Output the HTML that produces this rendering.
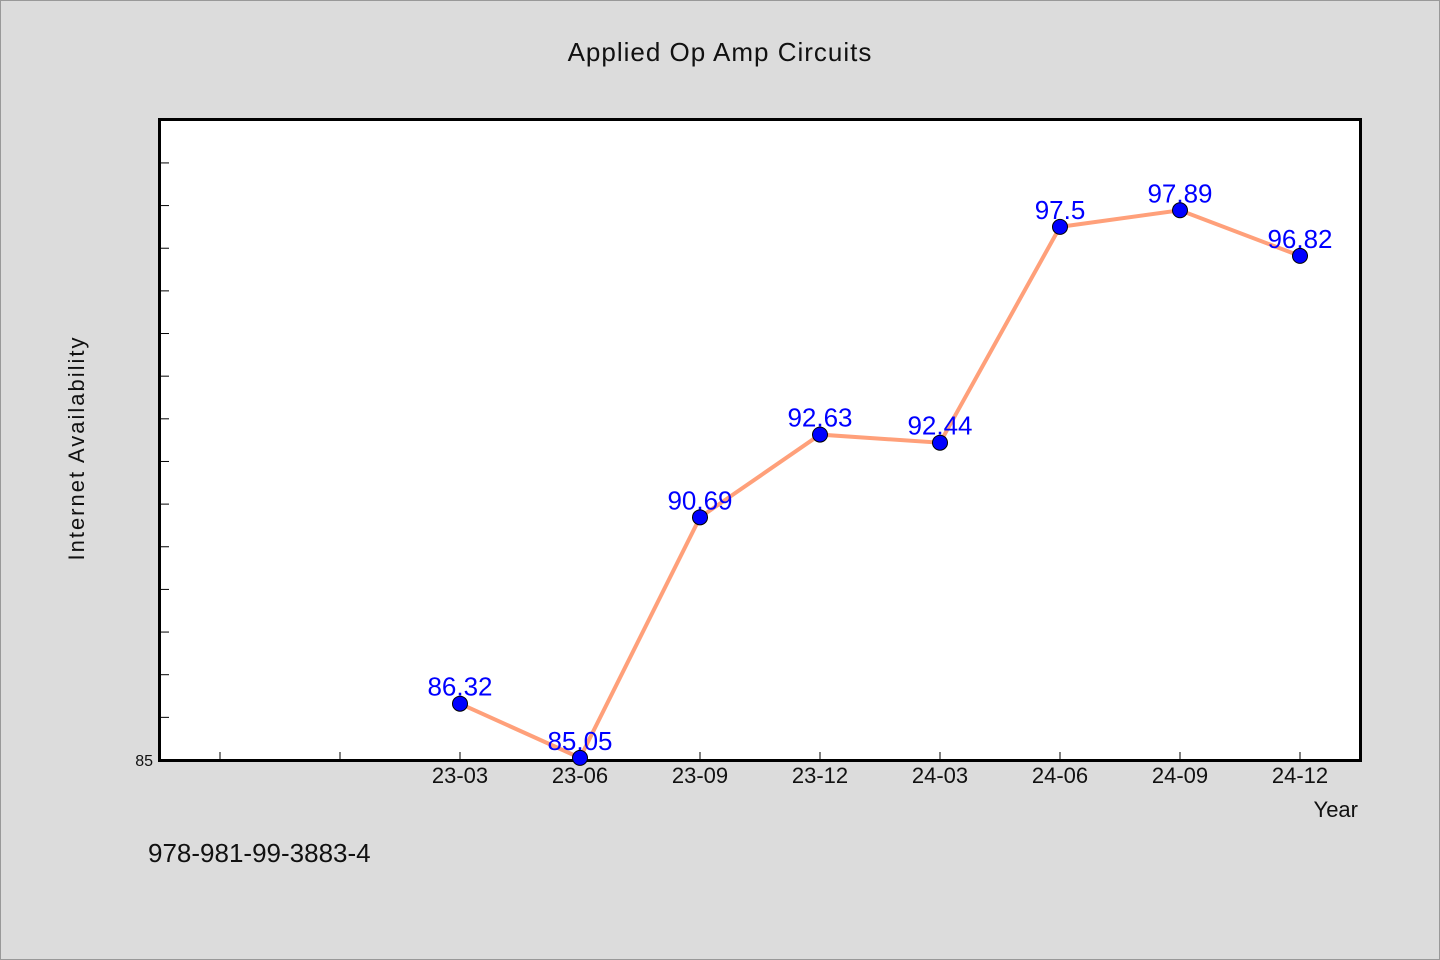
<!DOCTYPE html>
<html><head><meta charset="utf-8"><style>
body{margin:0;background:#dcdcdc;}
svg{display:block;font-family:"WenQuanYi Zen Hei","Liberation Sans",sans-serif;}
</style></head><body>
<svg width="1440" height="960" viewBox="0 0 1440 960">
<rect x="0.5" y="0.5" width="1439" height="959" fill="#dcdcdc" stroke="#999"/>
<text x="720" y="61" text-anchor="middle" font-size="26" fill="#111" letter-spacing="1">Applied Op Amp Circuits</text>
<rect x="159.5" y="119.5" width="1201" height="641" fill="#fff" stroke="#000" stroke-width="3"/>
<g id="ticks"></g>
<g id="marks"></g>
<text transform="translate(84,448) rotate(-90)" text-anchor="middle" font-size="22" fill="#111" letter-spacing="2">Internet Availability</text>
<text x="1358" y="817" text-anchor="end" font-size="22" fill="#111">Year</text>
<text x="148" y="862" font-size="26" fill="#111">978-981-99-3883-4</text>
</svg>
<script>
const categories=['','','23-03','23-06','23-09','23-12','24-03','24-06','24-09','24-12'];
const values=[null,null,86.32,85.05,90.69,92.63,92.44,97.5,97.89,96.82];
const labels=['','','86.32','85.05','90.69','92.63','92.44','97.5','97.89','96.82'];
const yMin=85,yMax=100.03;
const ns='http://www.w3.org/2000/svg';
const X0=160,X1=1360,Y0=760,Y1=119;
const band=(X1-X0)/categories.length;
const xs=i=>X0+band*(i+0.5);
const ys=v=>Y0-(v-yMin)/(yMax-yMin)*(Y0-Y1);
function mk(t,a,p){const e=document.createElementNS(ns,t);for(const k in a)e.setAttribute(k,a[k]);p.appendChild(e);return e;}
const tg=document.getElementById('ticks'),mg=document.getElementById('marks');
for(let v=86;v<100;v++){const y=ys(v);const t=mk('line',{x1:160,x2:169,y1:y,y2:y,stroke:'#000','stroke-width':1},tg);

}
const yl=mk('text',{x:153,y:Y0+6,'text-anchor':'end','font-size':16,fill:'#111'},tg);yl.textContent='85';


categories.forEach((c,i)=>{const x=xs(i);const t=mk('line',{x1:x,x2:x,y1:752,y2:760,stroke:'#000','stroke-width':1},tg);


if(c){const l=mk('text',{x:x,y:783,'text-anchor':'middle','font-size':22,fill:'#111'},tg);l.textContent=c;

}});
const pts=[];values.forEach((v,i)=>{if(v!=null)pts.push([xs(i),ys(v)]);});
const pl=mk('polyline',{points:pts.map(p=>p.join(',')).join(' '),fill:'none',stroke:'#ffa07a','stroke-width':4},mg);


values.forEach((v,i)=>{if(v==null)return;const c=mk('circle',{cx:xs(i),cy:ys(v),r:7.5,fill:'#0000ff',stroke:'#000','stroke-width':1},mg);


const l=mk('text',{x:xs(i),y:ys(v)-8,'text-anchor':'middle','font-size':26,fill:'#0000ff'},mg);l.textContent=labels[i];

});
</script>
</body></html>
